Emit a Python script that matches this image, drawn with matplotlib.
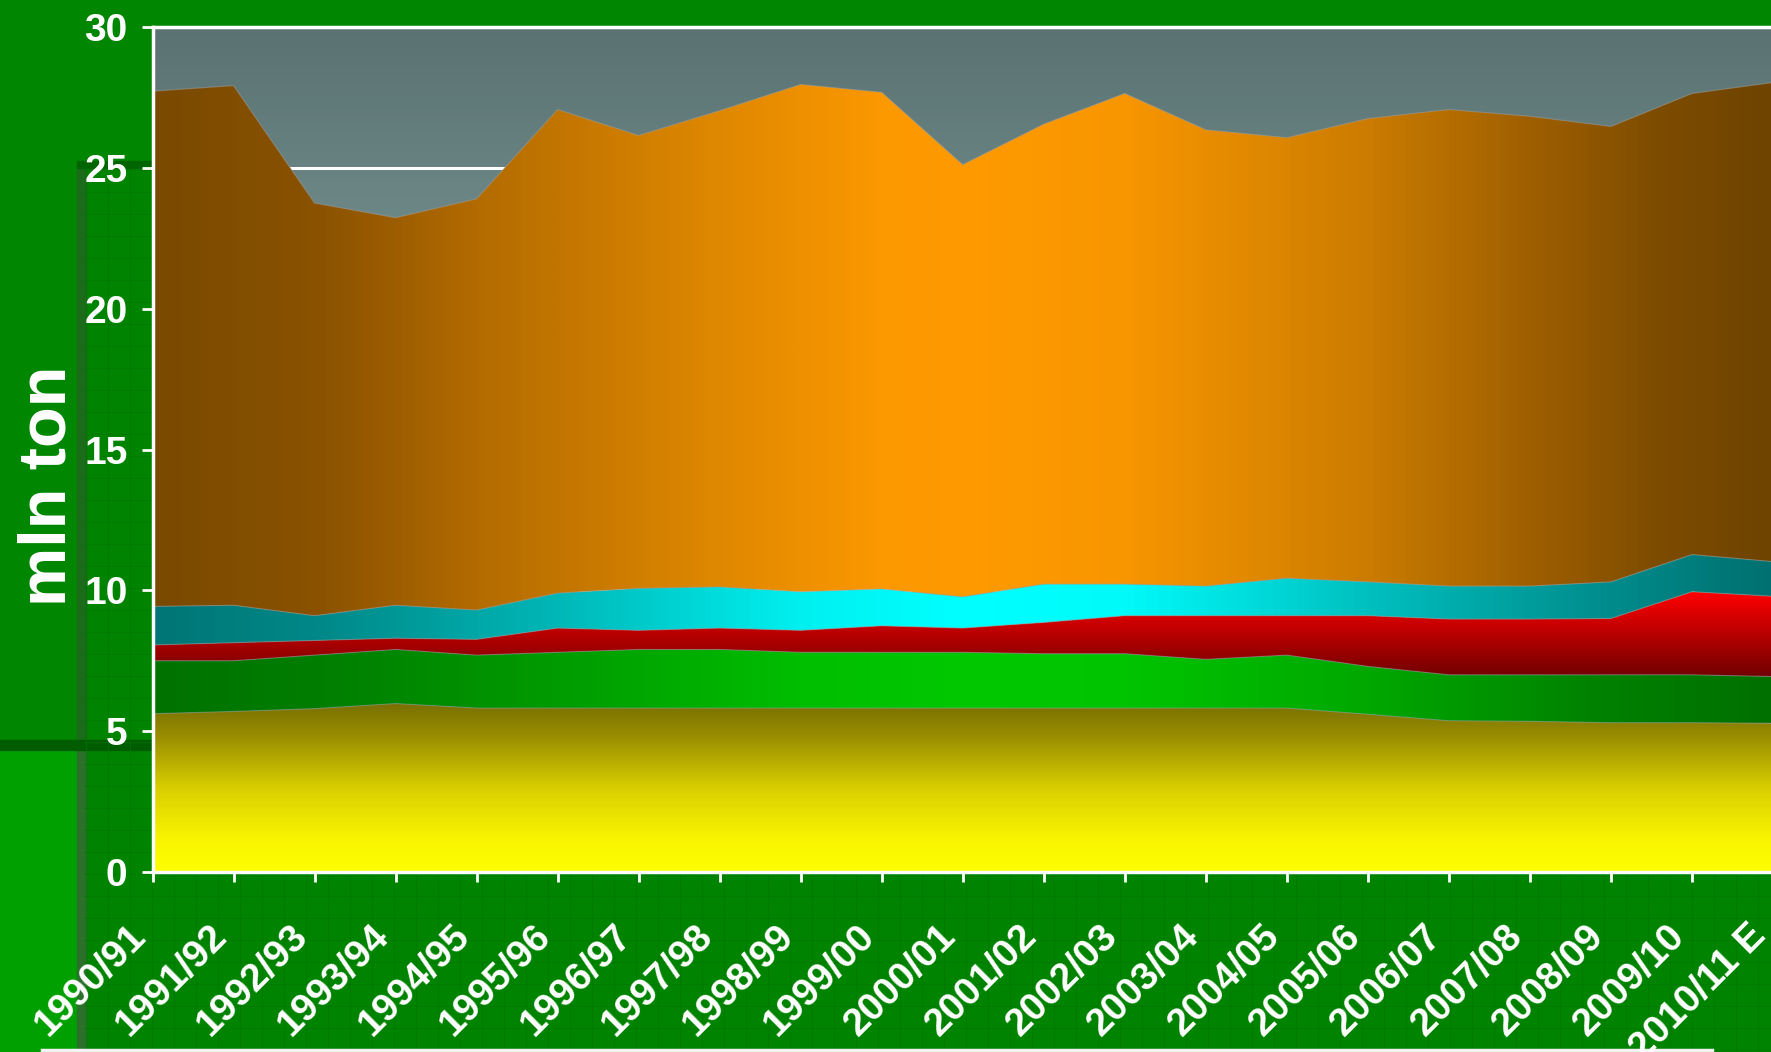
import numpy as np
import matplotlib.pyplot as plt
from matplotlib.colors import LinearSegmentedColormap
from matplotlib.patches import Rectangle

plt.rcParams['font.family'] = ['Liberation Sans', 'DejaVu Sans']
plt.rcParams['font.weight'] = 'bold'

seasons = ['1990/91', '1991/92', '1992/93', '1993/94', '1994/95', '1995/96',
           '1996/97', '1997/98', '1998/99', '1999/00', '2000/01', '2001/02',
           '2002/03', '2003/04', '2004/05', '2005/06', '2006/07', '2007/08',
           '2008/09', '2009/10', '2010/11 E']

# warstwy od dolu, mln ton
yellow = [5.62, 5.70, 5.80, 5.98, 5.82, 5.82, 5.82, 5.82, 5.82, 5.82, 5.82,
          5.82, 5.82, 5.82, 5.82, 5.60, 5.37, 5.35, 5.30, 5.30, 5.28]
green = [1.88, 1.80, 1.90, 1.92, 1.88, 1.98, 2.08, 2.08, 1.98, 1.98, 1.98,
         1.93, 1.93, 1.73, 1.88, 1.70, 1.63, 1.65, 1.70, 1.70, 1.66]
red = [0.56, 0.64, 0.52, 0.40, 0.56, 0.86, 0.68, 0.76, 0.78, 0.94, 0.86,
       1.11, 1.35, 1.55, 1.40, 1.80, 1.98, 1.98, 2.00, 2.95, 2.85]
cyan = [1.37, 1.33, 0.88, 1.17, 1.04, 1.24, 1.49, 1.46, 1.37, 1.31, 1.11,
        1.36, 1.12, 1.05, 1.33, 1.20, 1.17, 1.17, 1.30, 1.32, 1.23]
orange = [18.29, 18.45, 14.65, 13.76, 14.60, 17.17, 16.08, 16.91, 18.01, 17.63, 15.34,
          16.33, 17.42, 16.20, 15.64, 16.45, 16.92, 16.68, 16.17, 16.37, 17.01]

yticks = [0, 5, 10, 15, 20, 25, 30]

W, H = 1771, 1052
fig = plt.figure(figsize=(W / 100, H / 100), dpi=100)
fig.patch.set_facecolor('#008600')

# tlo slajdu (pikselowe wspolrzedne)
bg = fig.add_axes([0, 0, 1, 1], zorder=0)
bg.set_xlim(0, W)
bg.set_ylim(H, 0)
bg.axis('off')
bg.add_patch(Rectangle((0, 0), W, H, color='#008600'))
strip = np.linspace(0, 1, 256).reshape(-1, 1)
bg.imshow(strip, cmap=LinearSegmentedColormap.from_list('s', ['#008800', '#00bb00']),
          extent=(0, 80, 745, 150), origin='upper', aspect='auto')
bg.add_patch(Rectangle((0, 745), 80, H - 745, color='#00a000'))
bg.add_patch(Rectangle((84, 168), W - 84, H - 168, color='#008400'))
for gx in np.arange(86, W, 22):
    bg.plot([gx, gx], [168, H], color='#007600', lw=0.8, alpha=0.6)
for gy in np.arange(170, H, 22):
    bg.plot([84, W], [gy, gy], color='#007600', lw=0.8, alpha=0.6)
bg.add_patch(Rectangle((77, 165), 9, 580, color='#1b6b1b'))
bg.add_patch(Rectangle((77, 745), 9, H - 745, color='#2b712b'))
bg.add_patch(Rectangle((77, 161), 80, 7, color='#006400'))
bg.add_patch(Rectangle((0, 740), 155, 10, color='#005c00'))
bg.plot([42, 1712], [1050, 1050], color='#f2f2f2', lw=2.5)
bg.set_xlim(0, W)
bg.set_ylim(H, 0)

ax = fig.add_axes([152.5 / W, (H - 872) / H, (1773 - 152.5) / W, 845 / H], zorder=1)
x = np.arange(len(seasons))


def gradient_area(lo, hi, colors, vertical=False, z=2, ext=None):
    poly = ax.fill_between(x, lo, hi, facecolor='none', edgecolor='none', zorder=z)
    cmap = LinearSegmentedColormap.from_list('g', colors)
    if vertical:
        grad = np.linspace(0, 1, 256).reshape(-1, 1)
    else:
        grad = np.linspace(0, 1, 256).reshape(1, -1)
    if ext is None:
        ext = (x[0], x[-1], np.min(lo), np.max(hi))
    im = ax.imshow(grad, cmap=cmap, aspect='auto', origin='lower', extent=ext,
                   zorder=z, interpolation='bilinear')
    im.set_clip_path(poly.get_paths()[0], transform=ax.transData)


# tlo pola wykresu
bgrad = np.linspace(0, 1, 256).reshape(-1, 1)
ax.imshow(bgrad, cmap=LinearSegmentedColormap.from_list(
    'b', [(0, '#7e9e9c'), (0.75, '#6e8a88'), (1, '#5a7272')]),
    aspect='auto', origin='lower', extent=(0, 20, 0, 30), zorder=0)
for yt in yticks[1:]:
    ax.axhline(yt, color='white', lw=2.2, zorder=1)

c1 = np.array(yellow)
c2 = c1 + np.array(green)
c3 = c2 + np.array(red)
c4 = c3 + np.array(cyan)
c5 = c4 + np.array(orange)
zero = np.zeros(len(x))

gradient_area(zero, c1, [(0, '#ffff00'), (0.2, '#f8f400'), (0.5, '#d8ce00'),
                         (0.8, '#9a8e00'), (1, '#787000')], vertical=True)
gradient_area(c1, c2, [(0, '#007200'), (0.1, '#007e00'), (0.25, '#009c00'),
                       (0.4, '#00be00'), (0.5, '#00c800'), (0.6, '#00c400'),
                       (0.75, '#00a800'), (0.9, '#008000'), (1, '#007000')])
gradient_area(c2, c3, [(0, '#700000'), (1, '#ff0000')], vertical=True)
gradient_area(c3, c4, [(0, '#007676'), (0.1, '#008888'), (0.25, '#00b8b8'),
                       (0.4, '#00f0f0'), (0.5, '#00ffff'), (0.6, '#00fafa'),
                       (0.75, '#00c0c0'), (0.9, '#008c8c'), (1, '#007070')])
gradient_area(c4, c5, [(0, '#7a4a00'), (0.1, '#8a5200'), (0.2, '#b46c00'),
                       (0.35, '#e08800'), (0.45, '#fc9800'), (0.5, '#ff9a00'),
                       (0.6, '#f89600'), (0.75, '#cc7c00'), (0.85, '#a06000'),
                       (0.93, '#7e4c00'), (1, '#6e4400')])
for c in (c1, c2, c3, c4, c5):
    ax.plot(x, c, color='#a0a0a0', lw=0.8, alpha=0.5, zorder=3)

ax.set_xlim(0, 20)
ax.set_ylim(0, 30)
ax.set_yticks(yticks)
ax.set_xticks(x)
ax.set_xticklabels(seasons, rotation=45, ha='right', va='top')
ax.tick_params(axis='both', colors='white', labelsize=28, width=2, direction='out')
ax.tick_params(axis='y', length=8, pad=10)
ax.tick_params(axis='x', length=7, pad=26)
for s in ['left', 'bottom', 'top']:
    ax.spines[s].set_color('white')
    ax.spines[s].set_linewidth(2.5)
    ax.spines[s].set_zorder(5)
ax.spines['right'].set_visible(False)

fig.text(48 / W, 1 - 486 / H, 'mln ton', rotation=90, ha='center', va='center',
         color='white', fontsize=48, fontweight='bold')

fig.savefig('out.png', dpi=100)
